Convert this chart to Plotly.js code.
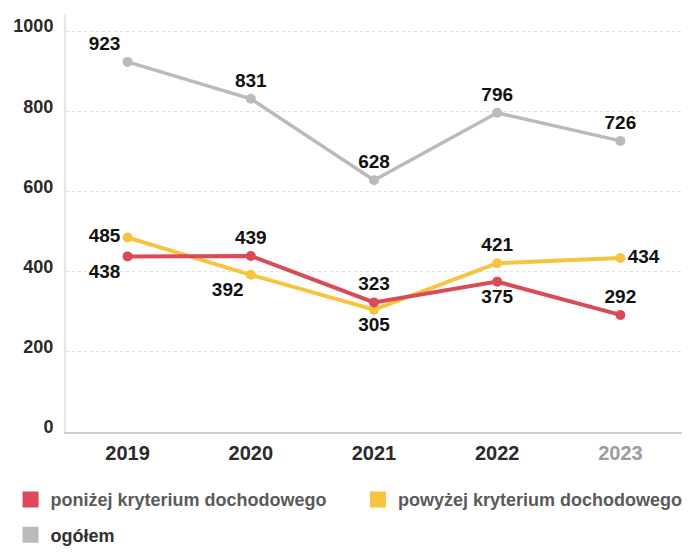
<!DOCTYPE html>
<html><head><meta charset="utf-8">
<script src="https://cdn.plot.ly/plotly-3.0.1.min.js"></script>
<style>body{margin:0;background:#fff}#c{width:688px;height:554px}</style>
</head><body><div id="c"></div>
<script>
const years = ['2019','2020','2021','2022','2023'];
const belowVals = [438, 439, 323, 375, 292];
const aboveVals = [485, 392, 305, 421, 434];
const totalVals = [923, 831, 628, 796, 726];
const seriesNames = ['poniżej kryterium dochodowego','powyżej kryterium dochodowego','ogółem'];
const yTicks = [0, 200, 400, 600, 800, 1000];

const cRed = '#d84b57', cYel = '#f6c43e', cGray = '#bababa';
const FF = 'Liberation Sans, Arial, sans-serif';
const lblFont = {family:FF, size:19, color:'#111', weight:'bold'};

function line(vals, color, width, pos){
  return {x:years, y:vals, type:'scatter', mode:'lines+markers+text',
    line:{color:color, width:width}, marker:{color:color, size:10},
    text:vals.map(String), textposition:pos, textfont:lblFont,
    showlegend:false, hoverinfo:'skip', cliponaxis:false};
}
function legendItem(name, color, lg){
  return {x:[null], y:[null], type:'scatter', mode:'markers', name:name,
    marker:{symbol:'square', size:22, color:color}, showlegend:true, legend:lg};
}
const data = [
  line(totalVals, cGray, 3.5, ['top left','top center','top center','top center','top center']),
  line(aboveVals, cYel, 4, ['middle left','bottom left','bottom center','top center','middle right']),
  line(belowVals, cRed, 4, ['bottom left','top center','top center','bottom center','top center']),
  legendItem(seriesNames[0], cRed, 'legend'),
  legendItem(seriesNames[1], cYel, 'legend2'),
  legendItem(seriesNames[2], cGray, 'legend3')
];
const legFont = {family:FF, size:18, color:'#5a5a5a', weight:'bold'};
const tickText = years.map((y, i) => i === years.length - 1 ? '<span style="color:#9c9c9c">' + y + '</span>' : y);
const layout = {
  width:688, height:554,
  margin:{l:66, r:0, t:15, b:116},
  paper_bgcolor:'#fff', plot_bgcolor:'#fff',
  font:{family:FF, size:14, color:'#222'},
  xaxis:{type:'category', range:[-0.5,4.5], tickvals:years, ticktext:tickText,
    showgrid:false, zeroline:false,
    showline:true, linecolor:'#cfcfcf', linewidth:2, ticks:'', ticklabelstandoff:2,
    tickfont:{family:FF, size:20, color:'#2a2a2a', weight:'bold'}},
  yaxis:{range:[0,1040], tickvals:yTicks, showgrid:true, gridcolor:'#e0e0e0',
    griddash:'dot', gridwidth:1, zeroline:false, showline:true, linecolor:'#e6e6e6', linewidth:2, ticks:'',
    tickfont:{family:FF, size:18, color:'#2a2a2a', weight:'bold'}, ticklabelstandoff:7, ticklabelshift:-5},
  legend:{orientation:'h', x:-0.09, y:-0.118, xanchor:'left', yanchor:'top',
    font:legFont, itemclick:false},
  legend2:{orientation:'h', x:0.474, y:-0.118, xanchor:'left', yanchor:'top',
    font:legFont, itemclick:false},
  legend3:{orientation:'h', x:-0.09, y:-0.203, xanchor:'left', yanchor:'top',
    font:Object.assign({}, legFont, {color:'#303030'}), itemclick:false}
};
Plotly.newPlot('c', data, layout, {displayModeBar:false, staticPlot:true});
</script></body></html>
